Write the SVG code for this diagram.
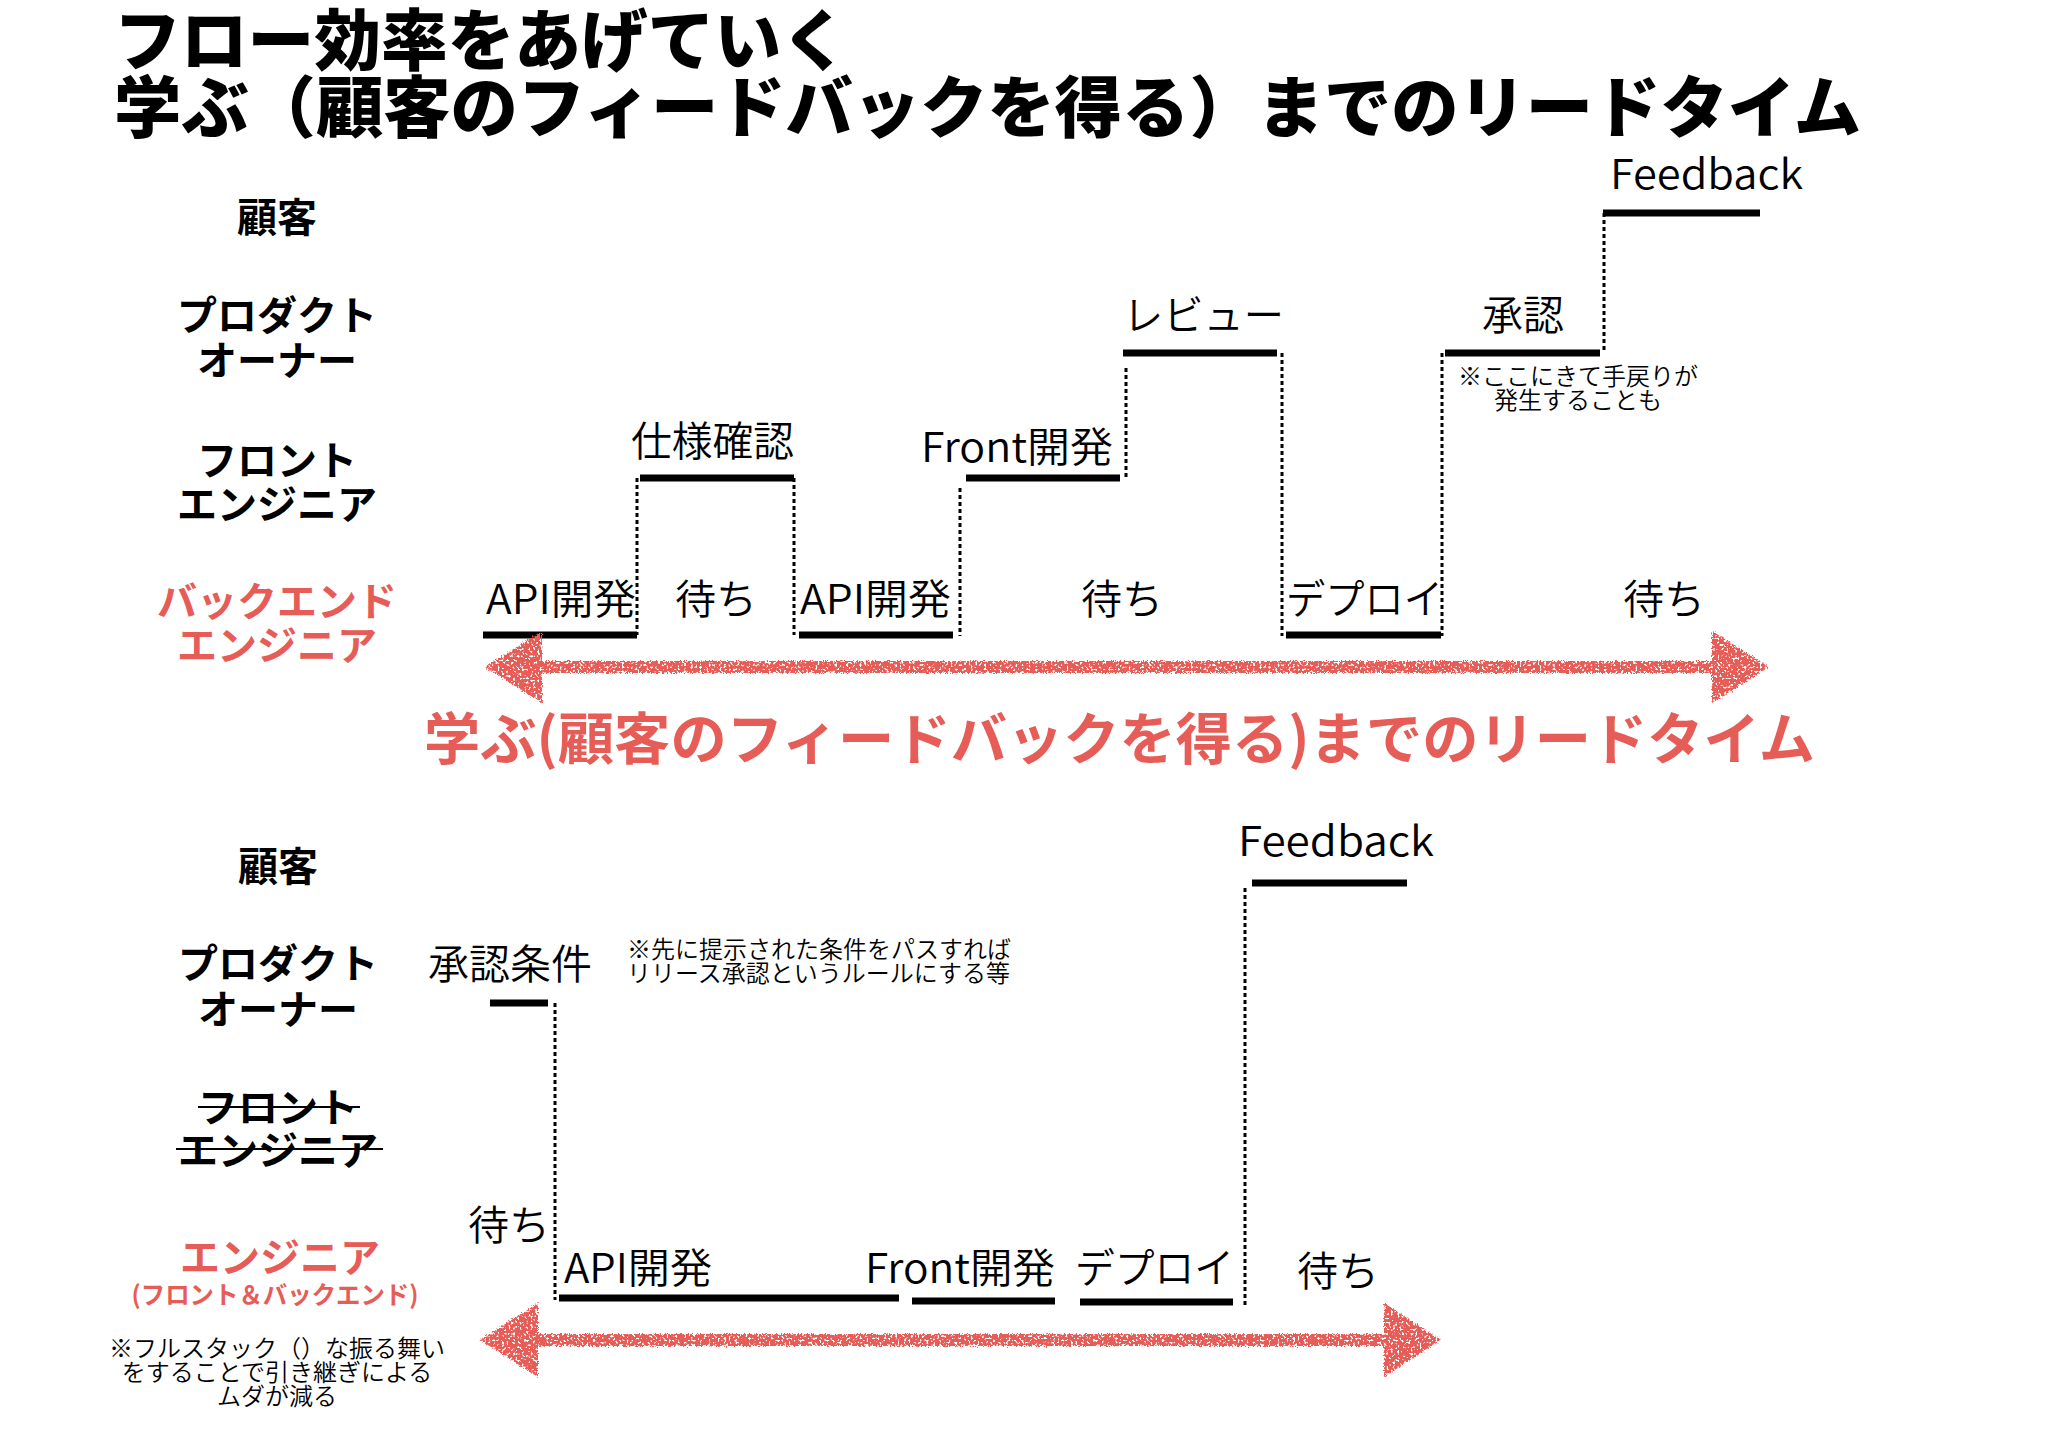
<svg xmlns="http://www.w3.org/2000/svg" width="2048" height="1447" viewBox="0 0 2048 1447">
<style>
text{font-family:"Noto Sans CJK JP","Noto Sans",sans-serif;fill:#000}
.title{font-size:67px;font-weight:900}
.role{font-size:40px;font-weight:700;text-anchor:middle}
.red{fill:#e65c56}
.lbl{font-size:41px;font-weight:350}
.note{font-size:24px;font-weight:350}
.bar{stroke:#000;stroke-width:7;fill:none}
.dot{stroke:#000;stroke-width:3;stroke-dasharray:4 3;fill:none}
.strike{stroke:#000;stroke-width:2}
.arr{fill:#e65c56;stroke:none}
</style>
<defs>
<filter id="chalk" x="-5%" y="-60%" width="110%" height="220%">
<feTurbulence type="fractalNoise" baseFrequency="0.8" numOctaves="2" seed="4" result="n"/>
<feDisplacementMap in="SourceGraphic" in2="n" scale="5" xChannelSelector="R" yChannelSelector="G" result="d"/>
<feTurbulence type="fractalNoise" baseFrequency="0.45" numOctaves="1" seed="9" result="n2"/>
<feColorMatrix in="n2" type="matrix" values="0 0 0 0 0  0 0 0 0 0  0 0 0 0 0  0 0 0 -10 6.6" result="m"/>
<feComposite in="d" in2="m" operator="in"/>
</filter>
</defs>
<rect width="2048" height="1447" fill="#fff"/>

<g id="title">
<text class="title" x="114" y="65" textLength="734" lengthAdjust="spacingAndGlyphs">フロー効率をあげていく</text>
<text class="title" x="114" y="132" textLength="1747" lengthAdjust="spacingAndGlyphs">学ぶ（顧客のフィードバックを得る）までのリードタイム</text>
</g>

<!-- top section roles -->
<g id="role-customer-1"><text class="role" x="277" y="232">顧客</text></g>
<g id="role-po-1"><text class="role" x="277" y="330">プロダクト</text><text class="role" x="277" y="375">オーナー</text></g>
<g id="role-front-1"><text class="role" x="277" y="475">フロント</text><text class="role" x="277" y="519">エンジニア</text></g>
<g id="role-back-1"><text class="role red" x="277" y="616">バックエンド</text><text class="role red" x="277" y="660">エンジニア</text></g>

<!-- top section tasks -->
<g id="api1"><text class="lbl" x="486" y="614" textLength="150" lengthAdjust="spacingAndGlyphs">API開発</text><line class="bar" x1="483" y1="635" x2="637" y2="635"/></g>
<g id="wait1"><text class="lbl" x="675" y="614">待ち</text></g>
<g id="spec"><text class="lbl" x="631" y="456" textLength="163" lengthAdjust="spacingAndGlyphs">仕様確認</text><line class="bar" x1="640" y1="478" x2="794" y2="478"/></g>
<g id="api2"><text class="lbl" x="800" y="614" textLength="151" lengthAdjust="spacingAndGlyphs">API開発</text><line class="bar" x1="799" y1="635" x2="953" y2="635"/></g>
<g id="wait2"><text class="lbl" x="1081" y="614">待ち</text></g>
<g id="front1"><text class="lbl" x="921" y="462" textLength="192" lengthAdjust="spacingAndGlyphs">Front開発</text><line class="bar" x1="966" y1="478" x2="1120" y2="478"/></g>
<g id="review"><text class="lbl" x="1123" y="330" textLength="161" lengthAdjust="spacingAndGlyphs">レビュー</text><line class="bar" x1="1123" y1="353" x2="1277" y2="353"/></g>
<g id="deploy1"><text class="lbl" x="1286" y="614" textLength="157" lengthAdjust="spacingAndGlyphs">デプロイ</text><line class="bar" x1="1286" y1="635" x2="1441" y2="635"/></g>
<g id="approve"><text class="lbl" x="1482" y="330">承認</text><line class="bar" x1="1445" y1="353" x2="1600" y2="353"/>
<text class="note" x="1578" y="385" text-anchor="middle">※ここにきて手戻りが</text>
<text class="note" x="1578" y="409" text-anchor="middle">発生することも</text></g>
<g id="wait3"><text class="lbl" x="1623" y="614">待ち</text></g>
<g id="feedback1"><text class="lbl" x="1610" y="189" textLength="193" lengthAdjust="spacingAndGlyphs">Feedback</text><line class="bar" x1="1603" y1="213" x2="1760" y2="213"/></g>
<g id="leadtime-label"><text class="red" x="424" y="759" font-size="56" font-weight="700" textLength="1391" lengthAdjust="spacingAndGlyphs">学ぶ(顧客のフィードバックを得る)までのリードタイム</text></g>

<!-- bottom section roles -->
<g id="role-customer-2"><text class="role" x="278" y="881">顧客</text></g>
<g id="role-po-2"><text class="role" x="278" y="978">プロダクト</text><text class="role" x="278" y="1024">オーナー</text></g>
<g id="role-front-2"><text class="role" x="278" y="1122">フロント</text><text class="role" x="278" y="1165">エンジニア</text>
<line class="strike" x1="198" y1="1107" x2="360" y2="1107"/><line class="strike" x1="176" y1="1149" x2="383" y2="1149"/></g>
<g id="role-eng-2"><text class="role red" x="280" y="1272">エンジニア</text>
<text class="red" x="275" y="1304" font-size="25" font-weight="700" text-anchor="middle" textLength="287" lengthAdjust="spacingAndGlyphs">(フロント＆バックエンド)</text>
<text class="note" x="277" y="1357" text-anchor="middle">※フルスタック（）な振る舞い</text>
<text class="note" x="277" y="1381" text-anchor="middle">をすることで引き継ぎによる</text>
<text class="note" x="277" y="1405" text-anchor="middle">ムダが減る</text></g>

<!-- bottom section tasks -->
<g id="cond"><text class="lbl" x="428" y="979">承認条件</text><line class="bar" x1="490" y1="1003" x2="548" y2="1003"/>
<text class="note" x="627" y="958">※先に提示された条件をパスすれば</text>
<text class="note" x="627" y="982">リリース承認というルールにする等</text></g>
<g id="wait4"><text class="lbl" x="468" y="1240">待ち</text></g>
<g id="api3"><text class="lbl" x="564" y="1283" textLength="148" lengthAdjust="spacingAndGlyphs">API開発</text><line class="bar" x1="559" y1="1298" x2="899" y2="1298"/></g>
<g id="front2"><text class="lbl" x="865" y="1283" textLength="190" lengthAdjust="spacingAndGlyphs">Front開発</text><line class="bar" x1="912" y1="1301" x2="1055" y2="1301"/></g>
<g id="deploy2"><text class="lbl" x="1075" y="1283" textLength="159" lengthAdjust="spacingAndGlyphs">デプロイ</text><line class="bar" x1="1080" y1="1302" x2="1233" y2="1302"/></g>
<g id="feedback2"><text class="lbl" x="1238" y="856" textLength="196" lengthAdjust="spacingAndGlyphs">Feedback</text><line class="bar" x1="1252" y1="883" x2="1407" y2="883"/></g>
<g id="wait5"><text class="lbl" x="1297" y="1286">待ち</text></g>

<g id="connectors">
<line class="dot" x1="637" y1="478" x2="637" y2="635"/>
<line class="dot" x1="794" y1="478" x2="794" y2="635"/>
<line class="dot" x1="960" y1="488" x2="960" y2="636"/>
<line class="dot" x1="1126" y1="368" x2="1126" y2="480"/>
<line class="dot" x1="1282" y1="353" x2="1282" y2="636"/>
<line class="dot" x1="1442" y1="353" x2="1442" y2="636"/>
<line class="dot" x1="1604" y1="213" x2="1604" y2="353"/>
<line class="dot" x1="555" y1="1003" x2="555" y2="1300"/>
<line class="dot" x1="1245" y1="888" x2="1245" y2="1306"/>
<g filter="url(#chalk)">
<path class="arr" d="M485 667 L542 631 L542 661 L1712 661 L1712 631 L1769 667 L1712 703 L1712 673 L542 673 L542 703 Z"/>
<path class="arr" d="M480 1340 L538 1303 L538 1334 L1384 1334 L1384 1303 L1441 1340 L1384 1377 L1384 1346 L538 1346 L538 1377 Z"/>
</g>
</g>
</svg>
